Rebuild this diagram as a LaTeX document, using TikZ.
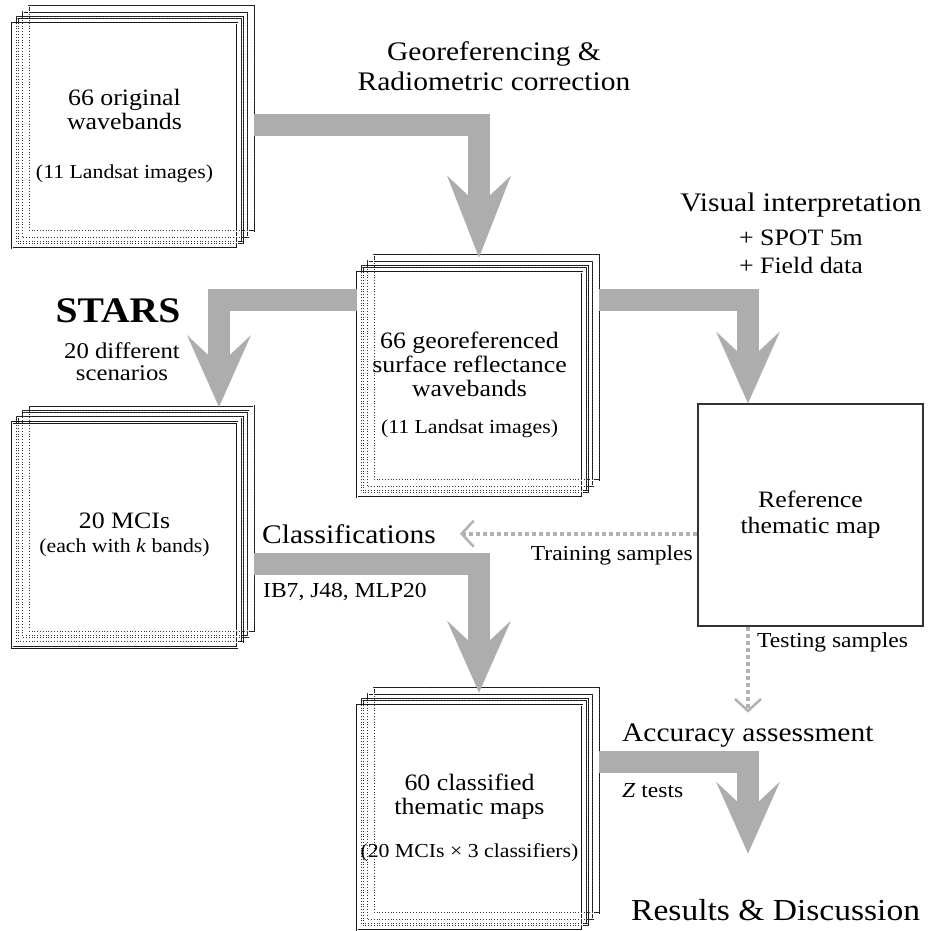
\documentclass[tikz,border=0pt]{standalone}
\usepackage{fontspec}
\setmainfont[FakeStretch=1.1]{Liberation Serif}
\usetikzlibrary{
    arrows.meta,
    calc
}

\begin{document}
\begin{tikzpicture}[
  x=1pt, y=-1pt,
  sheet/.style={draw=black!90, line width=0.8pt, double=white,
    double distance=0.8pt, fill=white},
  hidden/.style={draw=black!80, line width=0.8pt, double=white,
    double distance=0.8pt, dotted},
  stack/.style={sheet, minimum width=225pt, minimum height=225pt,
    inner sep=0pt, align=center, font=\fontsize{23.5}{24}\selectfont,
    preaction={sheet, transform canvas={shift={(16.8pt,16.8pt)}}},
    preaction={sheet, transform canvas={shift={(11.2pt,11.2pt)}}},
    preaction={sheet, transform canvas={shift={(5.6pt,5.6pt)}}},
    postaction={hidden, transform canvas={shift={(5.6pt,5.6pt)}}},
    postaction={hidden, transform canvas={shift={(11.2pt,11.2pt)}}},
    postaction={hidden, transform canvas={shift={(16.8pt,16.8pt)}}}},
  mapbox/.style={draw=black!80, line width=1.2pt, minimum width=225pt,
    minimum height=222pt, align=center, font=\fontsize{23.5}{26}\selectfont},
  tasklbl/.style={inner sep=0pt, align=center, font=\fontsize{26.8}{30}\selectfont},
  notelbl/.style={inner sep=0pt, align=center, font=\fontsize{21.4}{22}\selectfont},
  flow/.style={draw=black!32, line width=22pt,
    -{Stealth[length=#1, width=64pt, inset=30pt, line width=0pt]}},
  flow/.default=72pt,
  sample/.style={draw=black!30, line width=4pt, dash pattern=on 4pt off 3pt,
    -{Straight Barb[length=12pt, width=26pt, line width=2.5pt]}}
]
\useasboundingbox (0,0) rectangle (927,931);

% image stacks
\node[stack] (orig) at (124.5,135.5) {66 original\\wavebands\\[25pt]{\fontsize{19.8}{22}\selectfont (11 Landsat images)}};
\node[stack] (geo) at (469.5,384.5) {66 georeferenced\\surface reflectance\\wavebands\\[13pt]{\fontsize{19.8}{22}\selectfont (11 Landsat images)}};
\node[stack] (mci) at (124.5,535) {20 MCIs\\{\fontsize{19.8}{22}\selectfont (each with \textit{k} bands)}};
\node[stack] (cls) at (469.5,817.5) {60 classified\\thematic maps\\[19pt]{\fontsize{19.8}{22}\selectfont (20 MCIs × 3 classifiers)}};
\node[mapbox] (ref) at (810.5,515) {Reference\\thematic map};

% step labels
\node[tasklbl] (georad) at (494,66.5) {Georeferencing \&\\Radiometric correction};
\node[tasklbl, font=\fontsize{23.5}{28}\selectfont] (visual) at (801,233.5) {{\fontsize{26.8}{30}\selectfont Visual interpretation}\\[6pt]+ SPOT 5m\\+ Field data};
\node[inner sep=0pt, anchor=base, font=\fontsize{36}{38}\selectfont\bfseries] (stars) at (118,322) {STARS};
\node[notelbl, font=\fontsize{22.5}{22}\selectfont] (scen) at (122,362) {20 different\\scenarios};
\node[tasklbl, anchor=base west] (clslbl) at (262,543) {Classifications};
\node[notelbl, anchor=base west] (algo) at (263,597) {IB7, J48, MLP20};
\node[notelbl, anchor=base east] (train) at (693,560) {Training samples};
\node[notelbl, anchor=base west] (test) at (757,647) {Testing samples};
\node[tasklbl, anchor=base west] (acc) at (622,741) {Accuracy assessment};
\node[notelbl, anchor=base west] (ztest) at (622,797) {\textit{Z} tests};
\node[inner sep=0pt, anchor=base west, font=\fontsize{30.5}{32}\selectfont] (res) at (631,920) {Results \& Discussion};

% thick flow arrows
\draw[flow=82pt] ($(orig.east)+(16.8,-10.5)$) -| ($(geo.north)+(9.5,-14)$);
\draw[flow] ($(geo.west)+(0,-84.5)$) -| ($(mci.north)+(94.5,-15)$);
\draw[flow] ($(geo.east)+(16.8,-84.5)$) -| ($(ref.north)+(-62.5,0)$);
\draw[flow] ($(mci.east)+(16.8,29)$) -| ($(cls.north)+(9.5,-12)$);
\draw[flow] ($(cls.east)+(16.8,-55.5)$) -| ($(res.north west)+(117,-45)$);

% sample arrows
\coordinate (traintip) at ($(clslbl.east)+(24,0)$);
\coordinate (testtip) at ($(ref.south)+(-62.5,86)$);
\draw[sample] (ref.west |- traintip) -- (traintip);
\draw[sample] ($(ref.south)+(-62.5,0)$) -- (testtip);
\end{tikzpicture}
\end{document}
